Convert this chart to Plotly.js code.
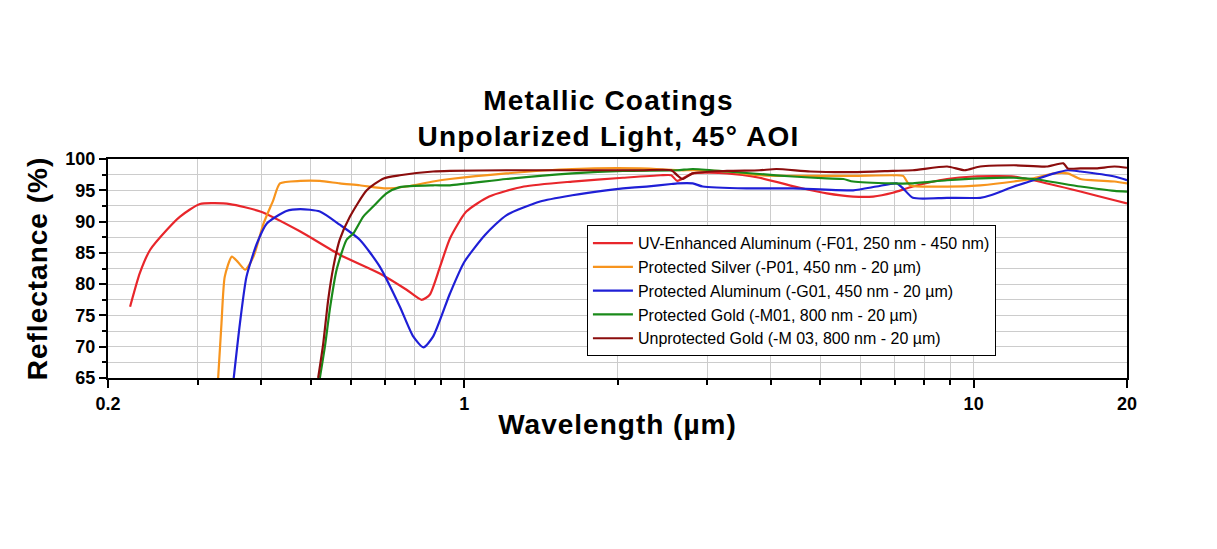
<!DOCTYPE html>
<html>
<head>
<meta charset="utf-8">
<script src="https://cdn.plot.ly/plotly-3.0.1.min.js"></script>
<style>
html,body{margin:0;padding:0;background:#fff;}
#chart{width:1217px;height:549px;}
#chart .gtitle{letter-spacing:1.2px;}
#chart .xtitle,#chart .ytitle{letter-spacing:1px;}
</style>
</head>
<body>
<div id="chart"></div>
<script>
// Wavelength (µm) and reflectance (%)
const uvAlX = [0.221,0.231,0.242,0.261,0.277,0.303,0.347,0.398,0.477,0.570,0.683,0.771,0.825,0.856,0.897,0.938,1.01,1.12,1.31,1.63,2.05,2.43,2.55,2.62,2.81,3.28,3.80,4.56,5.15,5.80,6.35,6.94,7.6,8.87,10.0,12.0,13.1,16.2,18.9,20];
const uvAlY = [76.4,81.8,85.5,88.7,90.8,92.8,92.8,91.6,88.4,84.7,81.7,79.1,77.5,78.3,82.8,87.3,91.6,94.0,95.6,96.4,97.0,97.4,97.4,96.5,97.7,97.7,97.0,95.4,94.5,94.0,94.0,94.6,95.6,96.8,97.2,97.2,96.6,94.8,93.4,92.9];

const agX = [0.329,0.334,0.339,0.350,0.360,0.372,0.386,0.404,0.422,0.435,0.477,0.521,0.570,0.624,0.704,0.771,0.869,0.938,1.21,1.63,2.22,2.66,2.81,3.28,3.80,4.42,5.15,5.80,6.94,7.27,7.5,8.87,10.3,12.0,13.1,14.4,15.3,16.2,18.9,20];
const agY = [65,73.7,81.2,84.4,83.5,82.3,84.4,89.7,93.4,96.1,96.5,96.5,96.1,95.8,95.3,95.6,96.4,96.8,97.7,98.4,98.5,98.2,98.2,98.0,97.4,97.3,97.3,97.3,97.4,97.3,95.8,95.6,95.8,96.4,96.9,97.7,97.7,96.8,96.4,96.1];

const alX = [0.353,0.363,0.374,0.392,0.410,0.448,0.477,0.521,0.570,0.624,0.683,0.748,0.795,0.832,0.869,0.938,1.0,1.10,1.21,1.41,1.63,1.90,2.05,2.28,2.55,2.62,2.81,2.94,3.58,4.42,5.80,6.45,7.06,7.27,7.6,8.87,10.3,10.8,12.0,13.1,14.4,15.3,16.2,18.9,20];
const alY = [65,73.7,81.2,86.5,89.7,91.7,92.0,91.6,89.5,87.1,82.8,76.4,71.6,69.9,71.6,78.5,83.5,87.9,91.0,93.2,94.2,95.0,95.3,95.6,96.0,96.1,96.1,95.6,95.3,95.3,95.0,95.6,96.1,95.3,93.8,93.8,93.8,94.2,95.6,96.6,97.7,98.2,98.0,97.2,96.6];

const auX = [0.521,0.533,0.546,0.562,0.588,0.606,0.634,0.663,0.704,0.748,0.869,0.938,1.21,1.63,2.05,2.62,2.81,3.28,3.80,4.42,5.15,5.55,5.80,6.94,7.5,8.87,10.3,12.0,13.1,16.2,18.9,20];
const auY = [65,70.0,76.4,82.3,87.1,88.1,90.8,92.4,94.5,95.5,95.8,95.8,96.8,97.7,98.1,98.2,98.4,98.0,97.6,97.2,96.9,96.8,96.4,96.1,96.1,96.6,96.9,97.0,96.8,95.6,94.9,94.8];

const uauX = [0.517,0.529,0.541,0.554,0.570,0.597,0.644,0.695,0.748,0.869,0.938,1.21,1.63,2.22,2.55,2.62,2.68,2.81,3.28,3.80,4.10,4.78,5.80,6.94,7.6,8.87,9.6,10.3,12.0,13.9,15.0,15.3,16.2,17.4,18.9,20];
const uauY = [65,70.5,77.5,82.8,87.1,90.8,95.0,96.9,97.4,98.0,98.1,98.2,98.2,98.2,98.2,97.4,96.8,97.7,98.1,98.2,98.4,98.0,97.9,98.1,98.2,98.8,98.2,98.8,99.0,98.8,99.3,98.5,98.5,98.5,98.8,98.6];

const names = [
  'UV-Enhanced Aluminum (-F01, 250 nm - 450 nm)',
  'Protected Silver (-P01, 450 nm - 20 \u00b5m)',
  'Protected Aluminum (-G01, 450 nm - 20 \u00b5m)',
  'Protected Gold (-M01, 800 nm - 20 \u00b5m)',
  'Unprotected Gold (-M 03, 800 nm - 20 \u00b5m)'
];
const colors = ['#e8262b','#f7941d','#1f1fd6','#1a8a1a','#8b0d0d'];

const xTickVals = [0.2, 1, 10, 20];
const xTickText = ['0.2', '1', '10', '20'];
const xMinorVals = [0.3,0.4,0.5,0.6,0.7,0.8,0.9,2,3,4,5,6,7,8,9];
const yTickVals = [65,70,75,80,85,90,95,100];

const xs = [uvAlX, agX, alX, auX, uauX];
const ys = [uvAlY, agY, alY, auY, uauY];

const traces = xs.map((x, i) => ({
  x: x, y: ys[i], name: names[i], type: 'scatter', mode: 'lines',
  line: {color: colors[i], width: 2.2, shape: 'spline', smoothing: 0.6}
}));

const FONT = 'Liberation Sans, Arial, sans-serif';

const layout = {
  width: 1217, height: 549,
  paper_bgcolor: '#fff', plot_bgcolor: '#fff',
  margin: {l: 108, r: 90, t: 159, b: 171},
  font: {family: FONT, color: '#000'},
  title: {
    text: '<b>Metallic Coatings</b><br><b>Unpolarized Light, 45\u00b0 AOI</b>',
    font: {size: 28, family: FONT, color: '#000'},
    x: 0.5, xanchor: 'center', xref: 'container', y: 0.80, yanchor: 'top', yref: 'container'
  },
  xaxis: {
    type: 'log', range: [Math.log10(0.2), Math.log10(20)],
    tickmode: 'array', tickvals: xTickVals, ticktext: xTickText,
    ticks: 'outside', ticklen: 8, tickwidth: 2, tickcolor: '#000',
    tickfont: {size: 18, family: FONT, weight: 'bold'},
    showgrid: true, gridcolor: '#cccccc', gridwidth: 1,
    minor: {tickmode: 'array', tickvals: xMinorVals, ticks: 'outside', ticklen: 5, tickwidth: 2, tickcolor: '#000', showgrid: true, gridcolor: '#cccccc', gridwidth: 1},
    showline: true, linecolor: '#000', linewidth: 2, mirror: true, zeroline: false,
    title: {text: '<b>Wavelength (\u00b5m)</b>', font: {size: 28}, standoff: 2}
  },
  yaxis: {
    range: [65, 100], tickmode: 'array', tickvals: yTickVals,
    ticks: 'outside', ticklen: 7, tickwidth: 2, tickcolor: '#000',
    tickfont: {size: 18, family: FONT, weight: 'bold'},
    showgrid: true, gridcolor: '#cccccc', gridwidth: 1,
    minor: {dtick: 2.5, tick0: 65, ticks: 'outside', ticklen: 4, tickwidth: 2, tickcolor: '#000', showgrid: true, gridcolor: '#cccccc', gridwidth: 1},
    showline: true, linecolor: '#000', linewidth: 2, mirror: true, zeroline: false,
    title: {text: '<b>Reflectance (%)</b>', font: {size: 28}, standoff: 10}
  },
  legend: {
    x: 0.47, y: 0.698, xanchor: 'left', yanchor: 'top',
    bgcolor: '#fff', bordercolor: '#000', borderwidth: 1,
    font: {size: 16, family: FONT, color: '#000'},
    tracegroupgap: 0, itemwidth: 40
  },
  showlegend: true
};

Plotly.newPlot('chart', traces, layout, {displayModeBar: false, staticPlot: true});
</script>
</body>
</html>
